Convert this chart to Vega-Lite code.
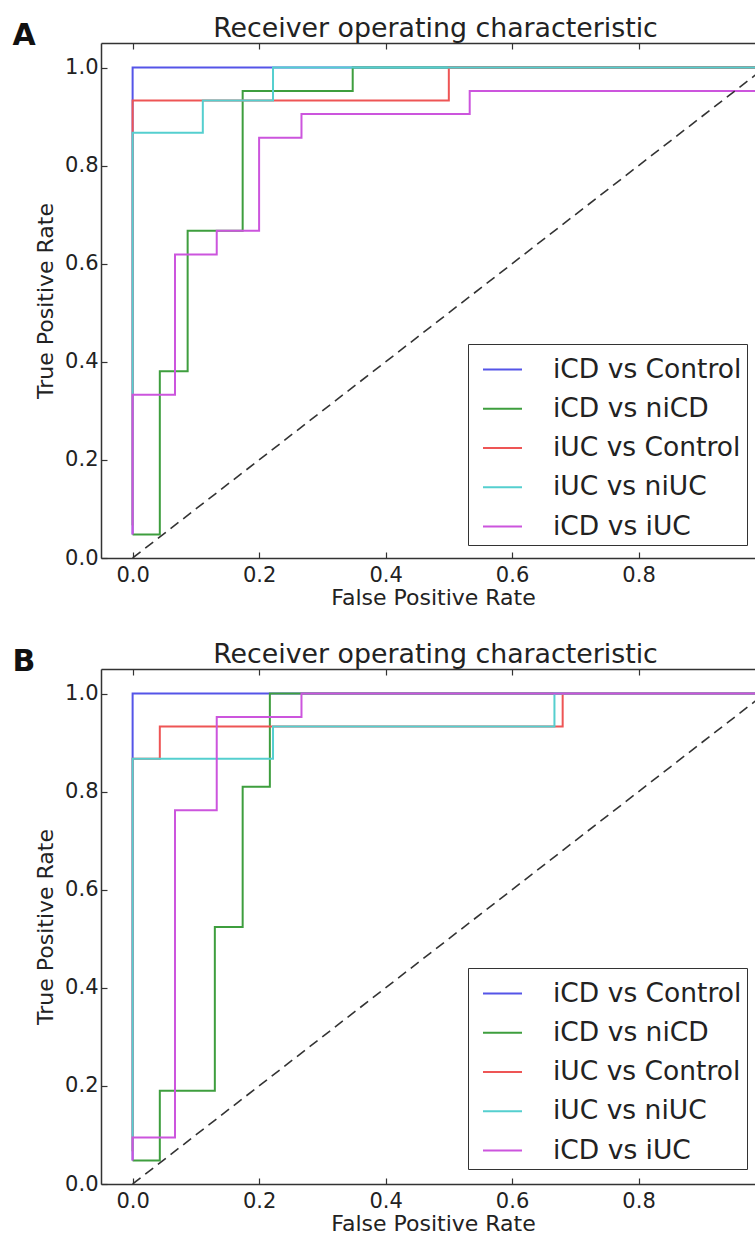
{
  "$schema": "https://vega.github.io/schema/vega-lite/v6.json",
  "padding": {"left": 12, "top": 15, "right": 0, "bottom": 0},
  "autosize": {"type": "pad"},
  "background": "white",
  "config": {
    "font": "DejaVu Sans",
    "view": {"stroke": null},
    "axis": {
      "domainColor": "#333", "domainWidth": 1.5,
      "tickColor": "#333", "tickSize": -6, "tickWidth": 1.2,
      "grid": false,
      "labelFont": "DejaVu Sans", "labelFontSize": 21, "labelColor": "#222",
      "titleFont": "DejaVu Sans", "titleFontSize": 22, "titleFontWeight": "normal", "titleColor": "#222"
    },
    "legend": {
      "orient": "none", "strokeColor": "#333", "fillColor": "white",
      "padding": 5, "symbolOffset": 9, "symbolType": "stroke", "symbolSize": 1521, "symbolStrokeWidth": 2,
      "labelFont": "DejaVu Sans", "labelFontSize": 26.5, "labelColor": "#222", "labelOffset": 30,
      "rowPadding": 5.25, "labelLimit": 400
    },
    "title": {"font": "DejaVu Sans", "color": "#222"}
  },
  "datasets": {
    "rocA": [
      {"series": "iCD vs Control", "step": 0, "fpr": 0, "tpr": 0.048},
      {"series": "iCD vs Control", "step": 1, "fpr": 0, "tpr": 1},
      {"series": "iCD vs Control", "step": 2, "fpr": 1, "tpr": 1},
      {"series": "iCD vs niCD", "step": 0, "fpr": 0, "tpr": 0.048},
      {"series": "iCD vs niCD", "step": 1, "fpr": 0.043, "tpr": 0.048},
      {"series": "iCD vs niCD", "step": 2, "fpr": 0.043, "tpr": 0.381},
      {"series": "iCD vs niCD", "step": 3, "fpr": 0.087, "tpr": 0.381},
      {"series": "iCD vs niCD", "step": 4, "fpr": 0.087, "tpr": 0.667},
      {"series": "iCD vs niCD", "step": 5, "fpr": 0.174, "tpr": 0.667},
      {"series": "iCD vs niCD", "step": 6, "fpr": 0.174, "tpr": 0.952},
      {"series": "iCD vs niCD", "step": 7, "fpr": 0.348, "tpr": 0.952},
      {"series": "iCD vs niCD", "step": 8, "fpr": 0.348, "tpr": 1},
      {"series": "iCD vs niCD", "step": 9, "fpr": 1, "tpr": 1},
      {"series": "iUC vs Control", "step": 0, "fpr": 0, "tpr": 0.067},
      {"series": "iUC vs Control", "step": 1, "fpr": 0, "tpr": 0.933},
      {"series": "iUC vs Control", "step": 2, "fpr": 0.5, "tpr": 0.933},
      {"series": "iUC vs Control", "step": 3, "fpr": 0.5, "tpr": 1},
      {"series": "iUC vs Control", "step": 4, "fpr": 1, "tpr": 1},
      {"series": "iUC vs niUC", "step": 0, "fpr": 0, "tpr": 0.067},
      {"series": "iUC vs niUC", "step": 1, "fpr": 0, "tpr": 0.867},
      {"series": "iUC vs niUC", "step": 2, "fpr": 0.111, "tpr": 0.867},
      {"series": "iUC vs niUC", "step": 3, "fpr": 0.111, "tpr": 0.933},
      {"series": "iUC vs niUC", "step": 4, "fpr": 0.222, "tpr": 0.933},
      {"series": "iUC vs niUC", "step": 5, "fpr": 0.222, "tpr": 1},
      {"series": "iUC vs niUC", "step": 6, "fpr": 1, "tpr": 1},
      {"series": "iCD vs iUC", "step": 0, "fpr": 0, "tpr": 0.048},
      {"series": "iCD vs iUC", "step": 1, "fpr": 0, "tpr": 0.333},
      {"series": "iCD vs iUC", "step": 2, "fpr": 0.067, "tpr": 0.333},
      {"series": "iCD vs iUC", "step": 3, "fpr": 0.067, "tpr": 0.619},
      {"series": "iCD vs iUC", "step": 4, "fpr": 0.133, "tpr": 0.619},
      {"series": "iCD vs iUC", "step": 5, "fpr": 0.133, "tpr": 0.667},
      {"series": "iCD vs iUC", "step": 6, "fpr": 0.2, "tpr": 0.667},
      {"series": "iCD vs iUC", "step": 7, "fpr": 0.2, "tpr": 0.857},
      {"series": "iCD vs iUC", "step": 8, "fpr": 0.267, "tpr": 0.857},
      {"series": "iCD vs iUC", "step": 9, "fpr": 0.267, "tpr": 0.905},
      {"series": "iCD vs iUC", "step": 10, "fpr": 0.533, "tpr": 0.905},
      {"series": "iCD vs iUC", "step": 11, "fpr": 0.533, "tpr": 0.952},
      {"series": "iCD vs iUC", "step": 12, "fpr": 1, "tpr": 0.952},
      {"series": "iCD vs iUC", "step": 13, "fpr": 1, "tpr": 1}
    ],
    "rocB": [
      {"series": "iCD vs Control", "step": 0, "fpr": 0, "tpr": 0.048},
      {"series": "iCD vs Control", "step": 1, "fpr": 0, "tpr": 1},
      {"series": "iCD vs Control", "step": 2, "fpr": 1, "tpr": 1},
      {"series": "iCD vs niCD", "step": 0, "fpr": 0, "tpr": 0.048},
      {"series": "iCD vs niCD", "step": 1, "fpr": 0.043, "tpr": 0.048},
      {"series": "iCD vs niCD", "step": 2, "fpr": 0.043, "tpr": 0.19},
      {"series": "iCD vs niCD", "step": 3, "fpr": 0.13, "tpr": 0.19},
      {"series": "iCD vs niCD", "step": 4, "fpr": 0.13, "tpr": 0.524},
      {"series": "iCD vs niCD", "step": 5, "fpr": 0.174, "tpr": 0.524},
      {"series": "iCD vs niCD", "step": 6, "fpr": 0.174, "tpr": 0.81},
      {"series": "iCD vs niCD", "step": 7, "fpr": 0.217, "tpr": 0.81},
      {"series": "iCD vs niCD", "step": 8, "fpr": 0.217, "tpr": 1},
      {"series": "iCD vs niCD", "step": 9, "fpr": 1, "tpr": 1},
      {"series": "iUC vs Control", "step": 0, "fpr": 0, "tpr": 0.067},
      {"series": "iUC vs Control", "step": 1, "fpr": 0, "tpr": 0.867},
      {"series": "iUC vs Control", "step": 2, "fpr": 0.043, "tpr": 0.867},
      {"series": "iUC vs Control", "step": 3, "fpr": 0.043, "tpr": 0.933},
      {"series": "iUC vs Control", "step": 4, "fpr": 0.68, "tpr": 0.933},
      {"series": "iUC vs Control", "step": 5, "fpr": 0.68, "tpr": 1},
      {"series": "iUC vs Control", "step": 6, "fpr": 1, "tpr": 1},
      {"series": "iUC vs niUC", "step": 0, "fpr": 0, "tpr": 0.067},
      {"series": "iUC vs niUC", "step": 1, "fpr": 0, "tpr": 0.867},
      {"series": "iUC vs niUC", "step": 2, "fpr": 0.222, "tpr": 0.867},
      {"series": "iUC vs niUC", "step": 3, "fpr": 0.222, "tpr": 0.933},
      {"series": "iUC vs niUC", "step": 4, "fpr": 0.667, "tpr": 0.933},
      {"series": "iUC vs niUC", "step": 5, "fpr": 0.667, "tpr": 1},
      {"series": "iUC vs niUC", "step": 6, "fpr": 1, "tpr": 1},
      {"series": "iCD vs iUC", "step": 0, "fpr": 0, "tpr": 0.048},
      {"series": "iCD vs iUC", "step": 1, "fpr": 0, "tpr": 0.095},
      {"series": "iCD vs iUC", "step": 2, "fpr": 0.067, "tpr": 0.095},
      {"series": "iCD vs iUC", "step": 3, "fpr": 0.067, "tpr": 0.762},
      {"series": "iCD vs iUC", "step": 4, "fpr": 0.133, "tpr": 0.762},
      {"series": "iCD vs iUC", "step": 5, "fpr": 0.133, "tpr": 0.952},
      {"series": "iCD vs iUC", "step": 6, "fpr": 0.267, "tpr": 0.952},
      {"series": "iCD vs iUC", "step": 7, "fpr": 0.267, "tpr": 1},
      {"series": "iCD vs iUC", "step": 8, "fpr": 1, "tpr": 1}
    ],
    "chance": [
      {"fpr": 0, "tpr": 0},
      {"fpr": 1, "tpr": 1}
    ]
  },
  "resolve": {"scale": {"color": "independent"}, "legend": {"color": "independent"}},
  "spacing": 33,
  "vconcat": [
    {
      "title": {"text": "A", "anchor": "start", "fontSize": 30, "fontWeight": "bold", "color": "#111", "offset": 0, "dx": -22, "dy": 35},
      "vconcat": [
        {
          "width": 655, "height": 515,
          "title": {"text": "Receiver operating characteristic", "fontSize": 26.8, "fontWeight": "normal", "offset": 0, "dx": 7},
          "layer": [
            {
              "data": {"name": "rocA"},
              "mark": {"type": "line", "clip": true, "strokeWidth": 2},
              "encoding": {
                "x": {"field": "fpr", "type": "quantitative", "scale": {"domain": [-0.05, 0.9857], "nice": false, "zero": false},
                      "axis": {"orient": "bottom", "values": [0, 0.2, 0.4, 0.6, 0.8], "format": ".1f", "title": "False Positive Rate", "labelPadding": 12, "titlePadding": 2, "titleX": 332}},
                "y": {"field": "tpr", "type": "quantitative", "scale": {"domain": [0, 1.05], "nice": false},
                      "axis": {"orient": "left", "values": [0, 0.2, 0.4, 0.6, 0.8, 1.0], "format": ".1f", "title": "True Positive Rate", "labelPadding": 9, "titlePadding": 7}},
                "color": {"field": "series", "type": "nominal",
                          "scale": {"domain": ["iCD vs Control", "iCD vs niCD", "iUC vs Control", "iUC vs niUC", "iCD vs iUC"],
                                    "range": ["#5555e8", "#3e9e3e", "#ee5555", "#55cfcf", "#cc55dd"]},
                          "legend": {"title": null, "legendX": 367, "legendY": 301}},
                "order": {"field": "step", "type": "quantitative"}
              }
            },
            {
              "data": {"name": "chance"},
              "mark": {"type": "line", "clip": true, "strokeDash": [10, 6], "color": "#333", "strokeWidth": 1.6},
              "encoding": {
                "x": {"field": "fpr", "type": "quantitative", "axis": {"orient": "top", "values": [0, 0.2, 0.4, 0.6, 0.8], "labels": false, "title": null}},
                "y": {"field": "tpr", "type": "quantitative",
                      "axis": {"orient": "left", "values": [0, 0.2, 0.4, 0.6, 0.8, 1.0], "format": ".1f", "title": "True Positive Rate", "labelPadding": 9, "titlePadding": 7}}
              }
            }
          ]
        }
      ]
    },
    {
      "title": {"text": "B", "anchor": "start", "fontSize": 30, "fontWeight": "bold", "color": "#111", "offset": 0, "dx": -22, "dy": 35},
      "vconcat": [
        {
          "width": 655, "height": 515,
          "title": {"text": "Receiver operating characteristic", "fontSize": 26.8, "fontWeight": "normal", "offset": 0, "dx": 7},
          "layer": [
            {
              "data": {"name": "rocB"},
              "mark": {"type": "line", "clip": true, "strokeWidth": 2},
              "encoding": {
                "x": {"field": "fpr", "type": "quantitative", "scale": {"domain": [-0.05, 0.9857], "nice": false, "zero": false},
                      "axis": {"orient": "bottom", "values": [0, 0.2, 0.4, 0.6, 0.8], "format": ".1f", "title": "False Positive Rate", "labelPadding": 12, "titlePadding": 2, "titleX": 332}},
                "y": {"field": "tpr", "type": "quantitative", "scale": {"domain": [0, 1.05], "nice": false},
                      "axis": {"orient": "left", "values": [0, 0.2, 0.4, 0.6, 0.8, 1.0], "format": ".1f", "title": "True Positive Rate", "labelPadding": 9, "titlePadding": 7}},
                "color": {"field": "series", "type": "nominal",
                          "scale": {"domain": ["iCD vs Control", "iCD vs niCD", "iUC vs Control", "iUC vs niUC", "iCD vs iUC"],
                                    "range": ["#5555e8", "#3e9e3e", "#ee5555", "#55cfcf", "#cc55dd"]},
                          "legend": {"title": null, "legendX": 367, "legendY": 299}},
                "order": {"field": "step", "type": "quantitative"}
              }
            },
            {
              "data": {"name": "chance"},
              "mark": {"type": "line", "clip": true, "strokeDash": [10, 6], "color": "#333", "strokeWidth": 1.6},
              "encoding": {
                "x": {"field": "fpr", "type": "quantitative", "axis": {"orient": "top", "values": [0, 0.2, 0.4, 0.6, 0.8], "labels": false, "title": null}},
                "y": {"field": "tpr", "type": "quantitative",
                      "axis": {"orient": "left", "values": [0, 0.2, 0.4, 0.6, 0.8, 1.0], "format": ".1f", "title": "True Positive Rate", "labelPadding": 9, "titlePadding": 7}}
              }
            }
          ]
        }
      ]
    }
  ]
}
